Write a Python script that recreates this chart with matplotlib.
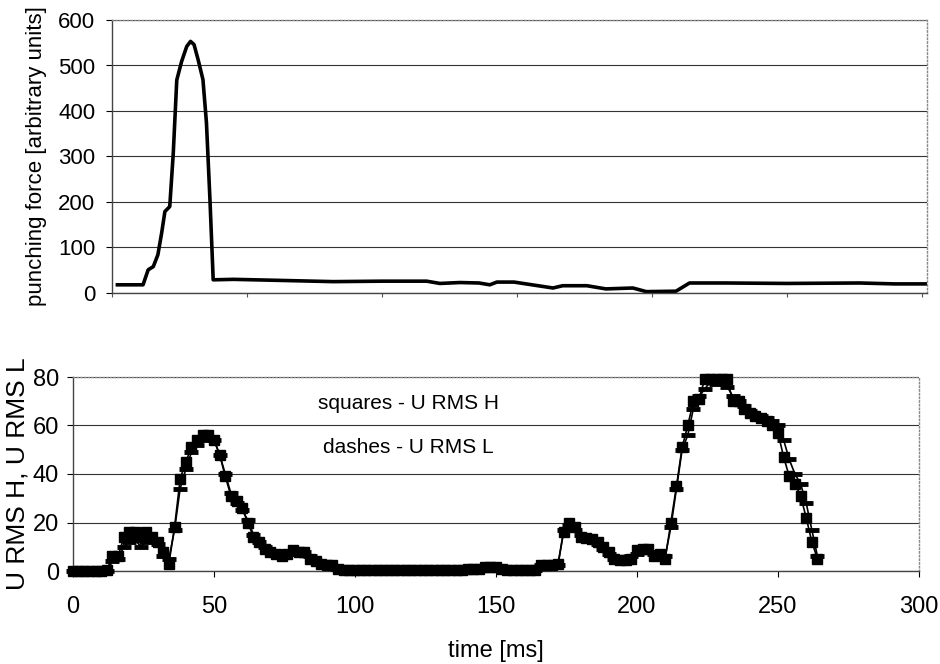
import numpy as np
import matplotlib
matplotlib.use("Agg")
import matplotlib.pyplot as plt
from matplotlib.ticker import MultipleLocator

plt.rcParams['font.family'] = ['Liberation Sans', 'DejaVu Sans']

# ---- top panel: punching force ----
force_t = [2, 11.5, 13.4, 15.3, 17, 18.4, 19.6, 21.4, 22.7, 24, 25.8, 27.7, 29.1, 30.4,
           31.9, 33.7, 35, 36.3, 37.5, 45, 60, 82, 100, 116.6, 121.5, 128.9, 136, 140,
           142.6, 149, 163.4, 167, 176, 183, 193, 198, 209, 214, 227.6, 250, 277, 290, 302]
force_v = [18, 18, 51, 58, 84, 132, 179, 190, 307, 468, 509, 542, 553, 546,
           513, 469, 374, 205, 29, 30, 28, 25, 26, 26, 21, 23, 22, 18,
           24, 24, 11, 16, 16, 9, 11, 3, 4, 22, 22, 21, 22, 20, 20]

# ---- bottom panel: U RMS H (squares) and U RMS L (dashes) ----
time_ms = np.arange(0, 266, 2)
urms_h = [0, 0, 0, 0, 0, 0, 0.5, 6, 6, 14, 16, 16, 14, 16, 14, 12, 8, 3, 18, 38,
          45, 51, 54, 56, 56, 54, 48, 39, 31, 29, 26, 20, 14, 12, 9, 8, 7, 6, 7, 8.5,
          8, 8, 5, 4, 3, 2.5, 2.5, 1, 0.5, 0.5, 0.5, 0.5, 0.5, 0.5, 0.5, 0.5, 0.5, 0.5,
          0.5, 0.5, 0.5, 0.5, 0.5, 0.5, 0.5, 0.5, 0.5, 0.5, 0.5, 0.5, 1, 1, 1, 1.5, 1.5,
          1.5, 1, 0.5, 0.5, 0.5, 0.5, 0.5, 0.5, 2.5, 2.5, 2.5, 3, 16, 20, 18, 14, 13.5,
          13, 12, 10, 8, 5, 4.5, 4.5, 5, 8.5, 9, 9, 6, 7, 5, 20, 35, 51, 60, 70, 71, 79,
          79, 79, 79, 79, 70, 70, 67, 65, 64, 63, 62, 60, 57, 47, 39, 36, 31, 22, 12, 5]
urms_l = [0, 0, 0, 0, 0, 0, 0, 4, 5, 10, 12, 13, 10, 12, 13, 11, 6, 5, 17, 34,
          42, 49, 52, 54, 55, 54, 48, 40, 32, 28, 25, 21, 15, 12, 10, 8, 7, 6, 7, 8,
          8, 8, 6, 4, 3, 2, 2, 1, 0.5, 0.5, 0.5, 0.5, 0.5, 0.5, 0.5, 0.5, 0.5, 0.5,
          0.5, 0.5, 0.5, 0.5, 0.5, 0.5, 0.5, 0.5, 0.5, 0.5, 0.5, 0.5, 1, 1, 1, 1, 1.5,
          1.5, 1, 0.5, 0.5, 0.5, 0.5, 0.5, 0.5, 2.5, 2.5, 2.5, 2.5, 17, 19, 17, 15, 14,
          12.5, 11, 9, 7, 5, 4, 5, 6, 7, 8, 8, 7, 6, 6, 18, 34, 50, 56, 67, 72, 75,
          78, 77, 78, 76, 72, 70, 68, 66, 64, 64, 63, 62, 60, 54, 46, 40, 36, 28, 17, 6]

top_yticks = [0, 100, 200, 300, 400, 500, 600]
bot_yticks = [0, 20, 40, 60, 80]
bot_xticks = [0, 50, 100, 150, 200, 250, 300]

fig = plt.figure(figsize=(9.4, 6.64), dpi=100)
fig.patch.set_facecolor('white')

ax1 = fig.add_axes([112/940, 1-293/664, (927-112)/940, (293-20)/664])
ax2 = fig.add_axes([73/940, 1-571/664, (919-73)/940, (571-377)/664])

# top
ax1.plot(force_t, force_v, color='black', lw=2.6, solid_joinstyle='round')
ax1.set_xlim(0, 302)
ax1.set_ylim(0, 600)
ax1.set_yticks(top_yticks)
ax1.xaxis.set_major_locator(MultipleLocator(50))
ax1.set_xticklabels([])
ax1.tick_params(axis='x', length=3, direction='out', colors='#555555')
ax1.tick_params(axis='y', length=4, direction='out', labelsize=16, pad=8)
ax1.grid(axis='y', color='#333333', lw=0.8)
ax1.set_ylabel('punching force [arbitrary units]', fontsize=16, labelpad=8)
for s in ax1.spines.values():
    s.set_color('#888888')
    s.set_linewidth(1.0)
    s.set_linestyle(':')
ax1.spines['left'].set_linestyle('-')
ax1.spines['left'].set_color('#444444')
ax1.spines['bottom'].set_linestyle('-')
ax1.spines['bottom'].set_color('#444444')

# bottom
ax2.plot(time_ms, urms_l, color='black', lw=1.2, marker='_', ms=9.5, mew=3.5,
         clip_on=False, zorder=3)
ax2.plot(time_ms, urms_h, color='black', lw=1.2, marker='s', ms=7.5, mec='black',
         mfc='black', clip_on=False, zorder=4)
ax2.set_xlim(0, 300)
ax2.set_ylim(0, 80)
ax2.set_yticks(bot_yticks)
ax2.set_xticks(bot_xticks)
ax2.tick_params(axis='both', length=4, direction='out', labelsize=17)
ax2.tick_params(axis='x', pad=14)
ax2.tick_params(axis='y', pad=6)
ax2.grid(axis='y', color='#333333', lw=0.8)
ax2.set_xlabel('time [ms]', fontsize=17, labelpad=16)
ax2.set_ylabel('U RMS H, U RMS L', fontsize=19, labelpad=2)
for s in ax2.spines.values():
    s.set_color('#888888')
    s.set_linewidth(1.0)
    s.set_linestyle(':')
ax2.spines['left'].set_linestyle('-')
ax2.spines['left'].set_color('#444444')
ax2.spines['bottom'].set_linestyle('-')
ax2.spines['bottom'].set_color('#444444')

ax2.text(119, 69, 'squares - U RMS H', fontsize=15, ha='center', va='center')
ax2.text(119, 51, 'dashes - U RMS L', fontsize=15, ha='center', va='center')

fig.savefig('out.png', dpi=100, facecolor='white')
